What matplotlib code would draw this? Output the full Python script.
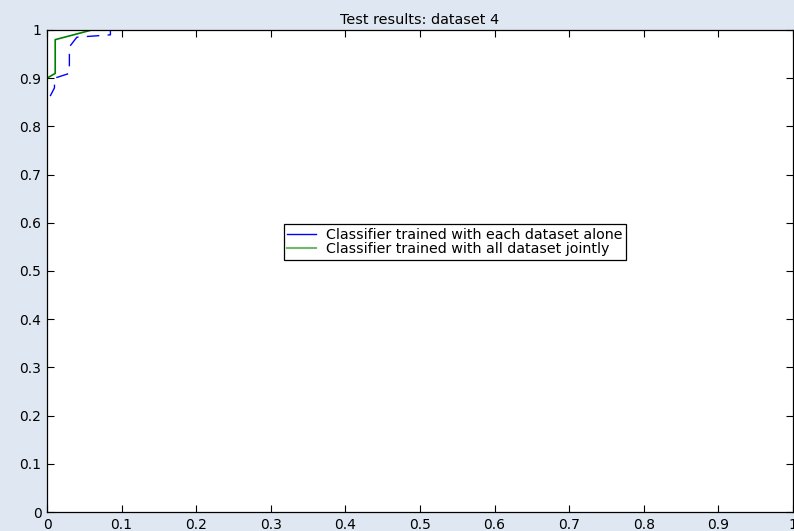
import matplotlib
matplotlib.use("Agg")
import matplotlib.pyplot as plt
from matplotlib.lines import Line2D
import numpy as np

plt.rcParams['font.family'] = ['DejaVu Sans']

# Data
alone_fpr = [0, 0, 0.01, 0.01, 0.03, 0.03, 0.04, 0.085, 0.085, 1.0]
alone_tpr = [0, 0.85, 0.88, 0.90, 0.91, 0.965, 0.985, 0.99, 1.0, 1.0]
joint_fpr = [0, 0, 0.011, 0.011, 0.06, 1.0]
joint_tpr = [0, 0.90, 0.91, 0.98, 1.0, 1.0]
title = "Test results: dataset 4"
legend_labels = ["Classifier trained with each dataset alone",
                 "Classifier trained with all dataset jointly"]
xticks = np.round(np.arange(0, 1.01, 0.1), 1)
yticks = np.round(np.arange(0, 1.01, 0.1), 1)

bg = '#dfe8f2'
fig = plt.figure(figsize=(7.94, 5.31), dpi=100, facecolor=bg)
ax = fig.add_axes([47/794, 1 - 512/531, 746/794, 482/531])
ax.set_facecolor('white')

ax.plot(alone_fpr, alone_tpr, color='#0000ff', lw=1, dashes=(9, 6))
ax.plot(joint_fpr, joint_tpr, color='#008000', lw=1.2)

ax.set_xlim(0, 1)
ax.set_ylim(0, 1)
ax.set_xticks(xticks)
ax.set_yticks(yticks)
ax.set_xticklabels([f"{v:g}" for v in xticks])
ax.set_yticklabels([f"{v:g}" for v in yticks])
ax.tick_params(direction='in', length=5, width=0.8, labelsize=10,
               top=True, right=True, pad=4)
for s in ax.spines.values():
    s.set_linewidth(0.9)

ax.set_title(title, fontsize=10.4, pad=4)

handles = [Line2D([], [], color='#0000ff', lw=1),
           Line2D([], [], color='#70b870', lw=1.5)]
leg = ax.legend(handles, legend_labels, loc='center', bbox_to_anchor=(0.547, 0.56),
                fontsize=10.3, frameon=True, fancybox=False, edgecolor='black',
                framealpha=1, borderpad=0.25, labelspacing=0.05, handlelength=2.0,
                handletextpad=0.7, borderaxespad=0)
leg.get_frame().set_linewidth(0.9)

fig.savefig("out.png", dpi=100, facecolor=bg)
